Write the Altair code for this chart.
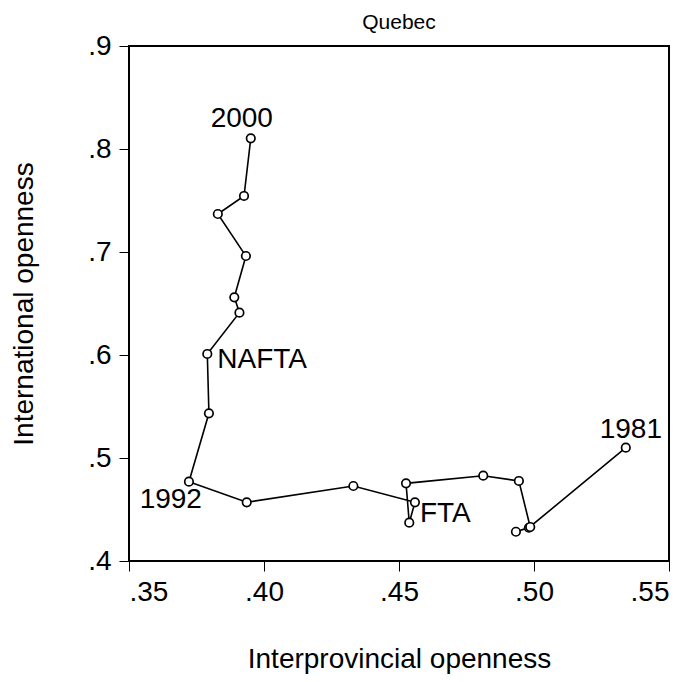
import altair as alt
import pandas as pd

# Data (Quebec, 1981-2000)
years = list(range(1981, 2001))
interprovincial = [0.5340, 0.4981, 0.4933, 0.4986, 0.4944, 0.4812, 0.4526, 0.4538,
                   0.4559, 0.4331, 0.3936, 0.3722, 0.3796, 0.3790, 0.3909, 0.3890,
                   0.3933, 0.3829, 0.3926, 0.3951]
international = [0.5100, 0.4323, 0.4284, 0.4330, 0.4777, 0.4828, 0.4754, 0.4372,
                 0.4570, 0.4728, 0.4570, 0.4770, 0.5434, 0.6010, 0.6411, 0.6560,
                 0.6961, 0.7369, 0.7544, 0.8104]

label_years = [1981, 1989, 1992, 1994, 2000]
label_texts = ["1981", "FTA", "1992", "NAFTA", "2000"]

x_ticks = [0.35, 0.40, 0.45, 0.50, 0.55]
y_ticks = [0.4, 0.5, 0.6, 0.7, 0.8, 0.9]

FONT = "Liberation Sans"
FS = 28

df = pd.DataFrame({"year": years, "interprovincial": interprovincial,
                   "international": international})
lab = pd.DataFrame({"year": label_years, "label": label_texts}).merge(df, on="year")

x_enc = alt.X(
    "interprovincial:Q",
    scale=alt.Scale(domain=[0.35, 0.55], nice=False, zero=False),
    axis=alt.Axis(values=x_ticks,
                  labelExpr="substring(format(datum.value, '.2f'), 1)",
                  title="Interprovincial openness",
                  titleY=106, titleBaseline="alphabetic",
                  labelPadding=7),
)
y_enc = alt.Y(
    "international:Q",
    scale=alt.Scale(domain=[0.4, 0.9], nice=False, zero=False),
    axis=alt.Axis(values=y_ticks,
                  labelExpr="substring(format(datum.value, '.1f'), 1)",
                  title="International openness",
                  titleX=-97, titleY=257.5, titleAngle=270,
                  titleBaseline="alphabetic", titleAlign="center",
                  labelPadding=8),
)

base = alt.Chart(df)
line = base.mark_line(color="black", strokeWidth=1.6).encode(
    x=x_enc, y=y_enc, order="year:O")
points = base.mark_point(shape="circle", filled=True, fill="white", stroke="black",
                         strokeWidth=1.7, size=72, opacity=1).encode(
    x="interprovincial:Q", y="international:Q")


def label_layer(text, align, dx, dy):
    return alt.Chart(lab).transform_filter(
        alt.datum.label == text
    ).mark_text(align=align, baseline="alphabetic", dx=dx, dy=dy,
                font=FONT, fontSize=FS, color="black").encode(
        x="interprovincial:Q", y="international:Q", text="label:N")


labels = [
    label_layer("1981", "center", 5, -10),
    label_layer("2000", "center", -9, -11),
    label_layer("NAFTA", "left", 10, 14),
    label_layer("1992", "right", 13, 26),
    label_layer("FTA", "left", 5, 20),
]

chart = alt.layer(line, points, *labels).properties(
    width=540, height=515,
    background="white",
    title=alt.Title("Quebec", font=FONT, fontSize=21, fontWeight="normal",
                    anchor="middle", color="black", offset=-1),
    autosize=alt.AutoSizeParams(type="none"),
    padding={"left": 121, "top": 38, "right": 12, "bottom": 113},
).configure_view(
    stroke="black", strokeWidth=2
).configure_axis(
    domain=False, grid=False, ticks=True, tickColor="black", tickWidth=1,
    tickSize=10, labelFont=FONT, labelFontSize=FS, labelColor="black",
    titleFont=FONT, titleFontSize=FS, titleFontWeight="normal", titleColor="black",
)

chart.save("out.html", embed_options={"renderer": "svg", "actions": False})
